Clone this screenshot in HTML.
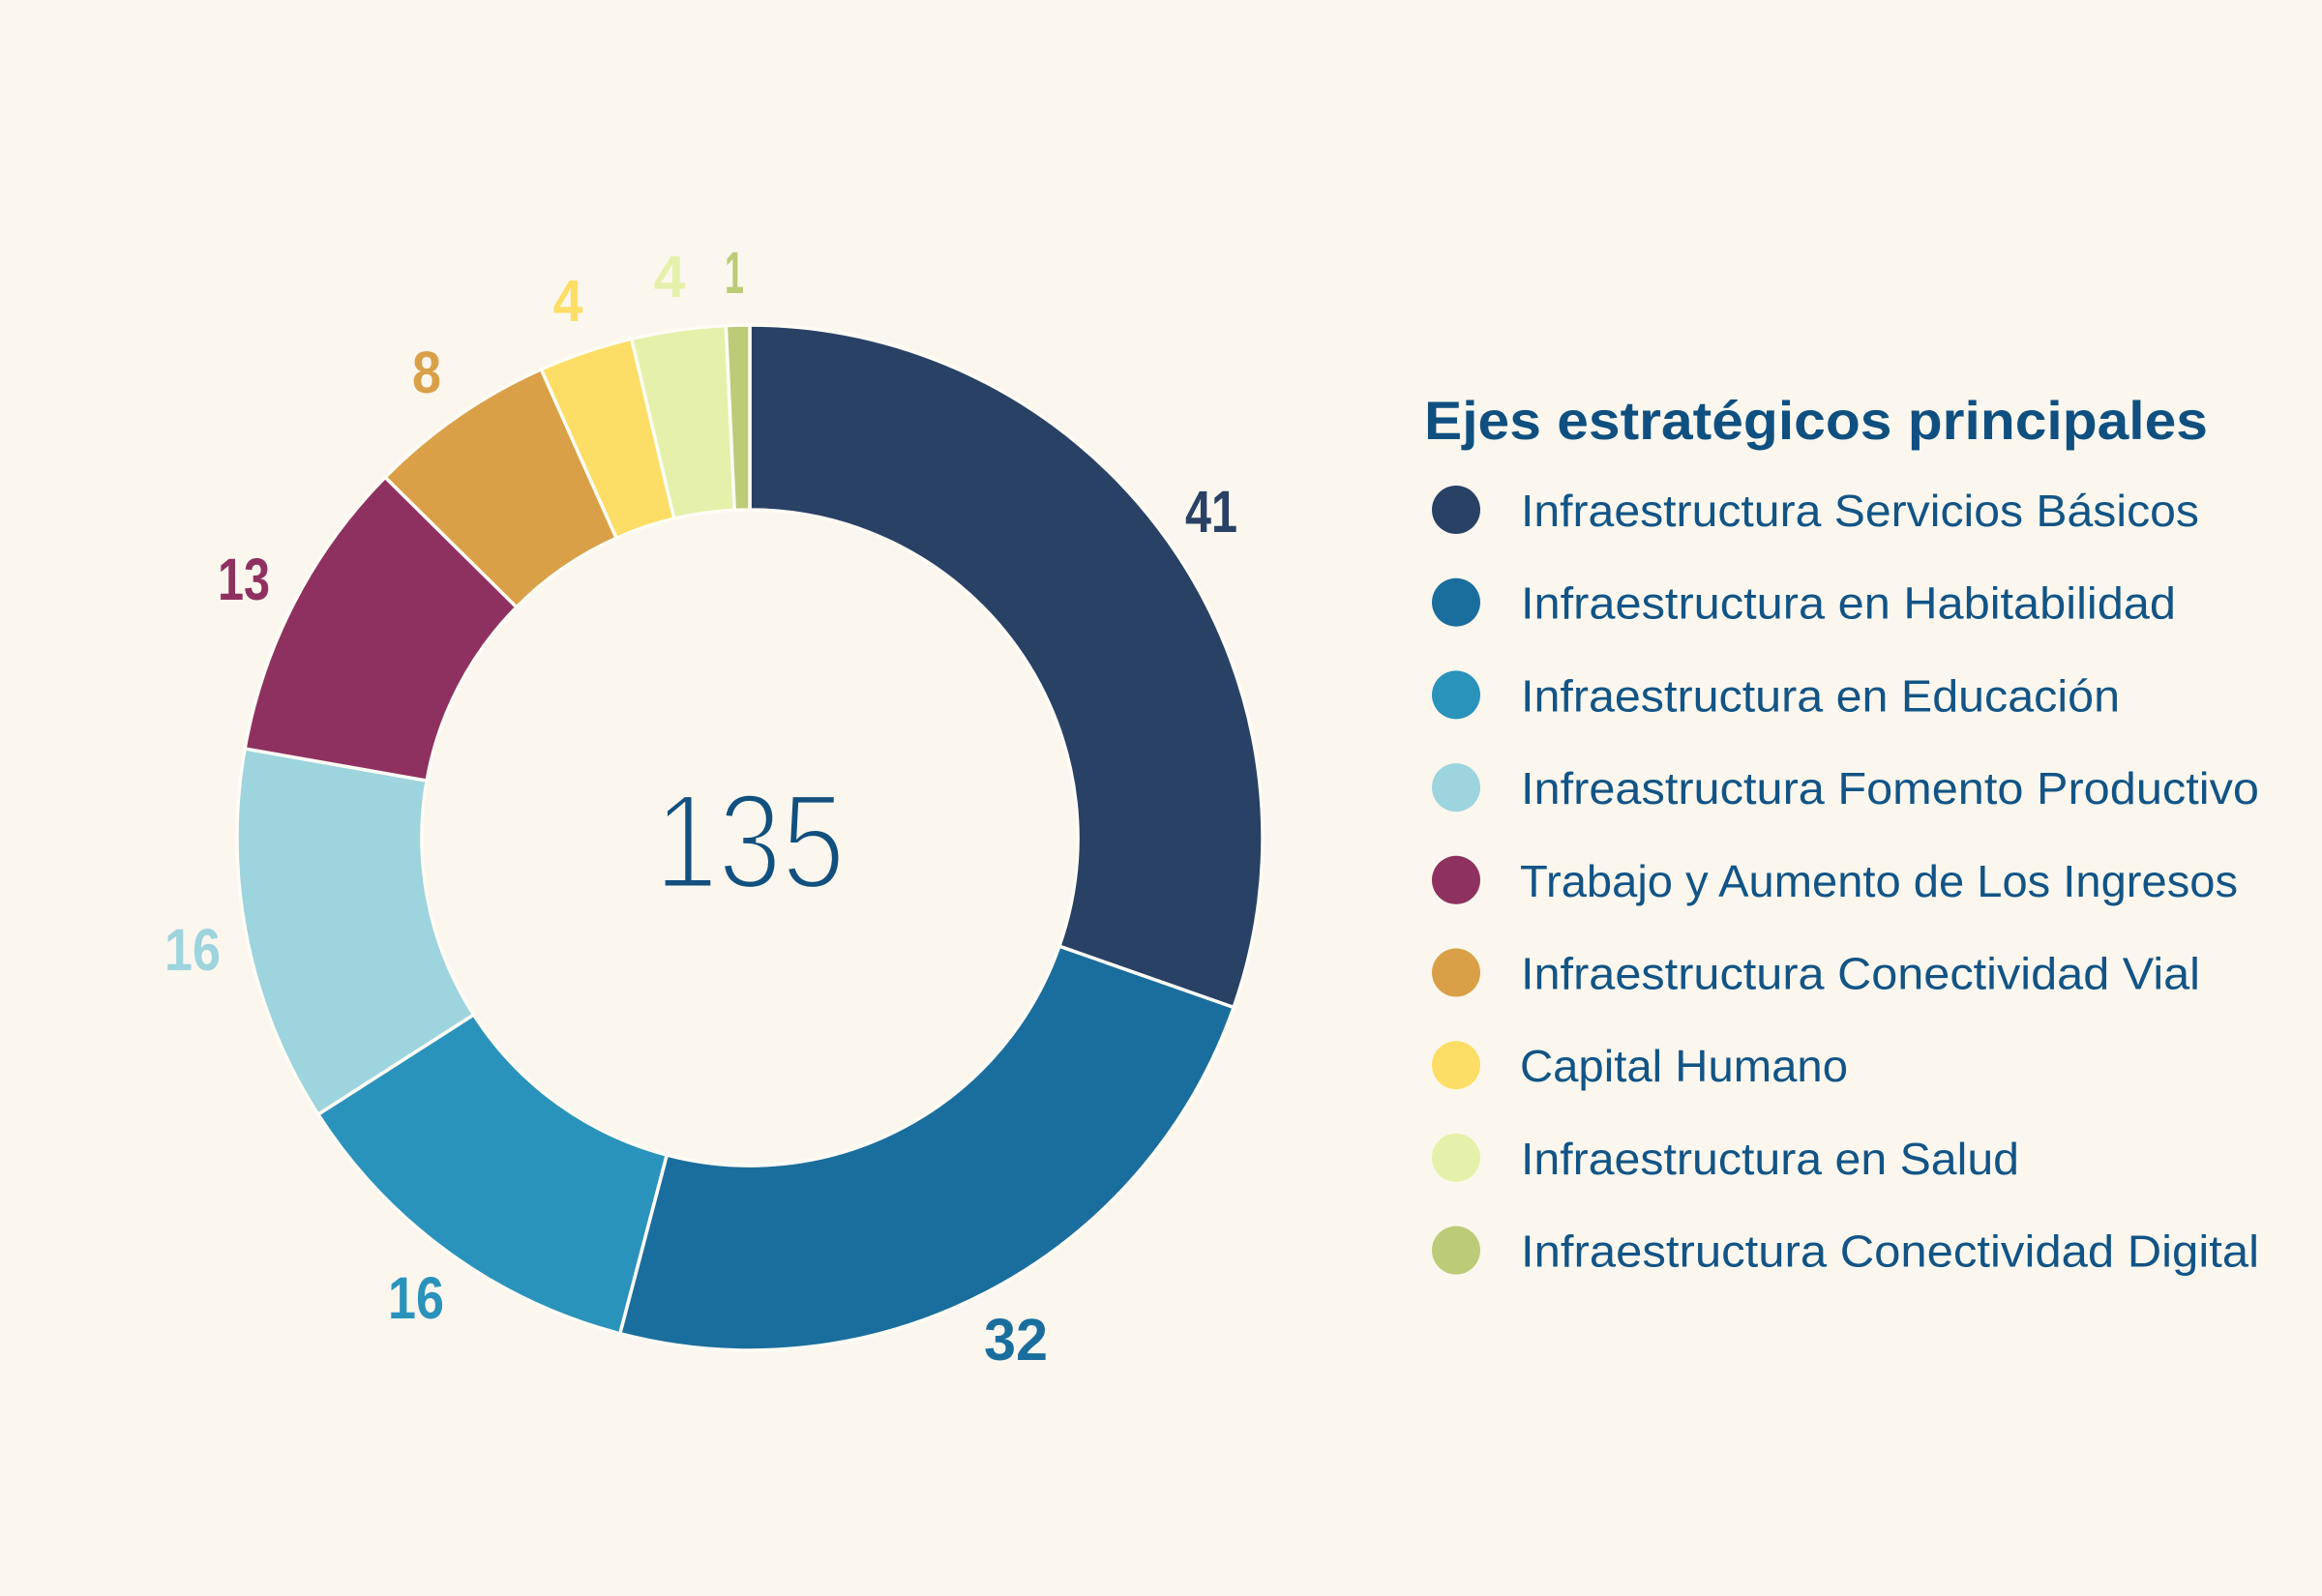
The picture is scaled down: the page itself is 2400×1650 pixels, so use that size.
<!DOCTYPE html>
<html>
<head>
<meta charset="utf-8">
<style>
  html, body { margin: 0; padding: 0; background: #FBF7EE; }
  body { width: 2400px; height: 1650px; overflow: hidden; }
  svg { display: block; }
  text { font-family: "Liberation Sans", sans-serif; }
</style>
</head>
<body>
<svg width="2400" height="1650" viewBox="0 0 2400 1650" xmlns="http://www.w3.org/2000/svg">
  <rect x="0" y="0" width="2400" height="1650" fill="#FBF7EE"/>

  <!-- Donut slices: cx=775, cy=866, R=530, r=339 -->
  <g stroke="#FFFCF5" stroke-width="3.5" stroke-linejoin="miter">
    <path d="M775,336 A530,530 0 0 1 1275.1,1041.5 L1094.9,978.2 A339,339 0 0 0 775,527 Z" fill="#2A4166"/>
    <path d="M1275.1,1041.5 A530,530 0 0 1 640.8,1378.7 L689.2,1194.0 A339,339 0 0 0 1094.9,978.2 Z" fill="#1A6E9E"/>
    <path d="M640.8,1378.7 A530,530 0 0 1 328.8,1152.1 L489.6,1049.0 A339,339 0 0 0 689.2,1194.0 Z" fill="#2A93BC"/>
    <path d="M328.8,1152.1 A530,530 0 0 1 253.1,774.0 L441.1,807.1 A339,339 0 0 0 489.6,1049.0 Z" fill="#9DD4DE"/>
    <path d="M253.1,774.0 A530,530 0 0 1 398.1,493.4 L533.9,627.7 A339,339 0 0 0 441.1,807.1 Z" fill="#8F3160"/>
    <path d="M398.1,493.4 A530,530 0 0 1 559.4,381.8 L637.1,556.3 A339,339 0 0 0 533.9,627.7 Z" fill="#D9A048"/>
    <path d="M559.4,381.8 A530,530 0 0 1 652.8,350.3 L696.8,536.1 A339,339 0 0 0 637.1,556.3 Z" fill="#FCDE66"/>
    <path d="M652.8,350.3 A530,530 0 0 1 750.3,336.6 L759.2,527.4 A339,339 0 0 0 696.8,536.1 Z" fill="#E5F0AA"/>
    <path d="M750.3,336.6 A530,530 0 0 1 775,336 L775,527 A339,339 0 0 0 759.2,527.4 Z" fill="#BCCB78"/>
  </g>

  <!-- Center total -->
  <text x="775" y="918" text-anchor="middle" font-size="140" fill="#11507F" stroke="#FBF7EE" stroke-width="5" paint-order="normal" textLength="197" lengthAdjust="spacingAndGlyphs">135</text>

  <!-- Slice labels -->
  <g font-weight="bold" font-size="61" text-anchor="middle">
    <text x="1252" y="550" fill="#2A4166" textLength="54" lengthAdjust="spacingAndGlyphs">41</text>
    <text x="1050" y="1406" fill="#1A6E9E" textLength="66" lengthAdjust="spacingAndGlyphs">32</text>
    <text x="430" y="1363" fill="#2A93BC" textLength="58" lengthAdjust="spacingAndGlyphs">16</text>
    <text x="199" y="1003" fill="#9DD4DE" textLength="58" lengthAdjust="spacingAndGlyphs">16</text>
    <text x="252" y="620" fill="#8F3160" textLength="54" lengthAdjust="spacingAndGlyphs">13</text>
    <text x="441" y="406" fill="#D9A048" textLength="30" lengthAdjust="spacingAndGlyphs">8</text>
    <text x="587" y="332" fill="#FCDE66" textLength="31" lengthAdjust="spacingAndGlyphs">4</text>
    <text x="692" y="307" fill="#E5F0AA" textLength="33" lengthAdjust="spacingAndGlyphs">4</text>
    <text x="759" y="303" fill="#BCCB78" textLength="20" lengthAdjust="spacingAndGlyphs">1</text>
  </g>

  <!-- Legend title -->
  <text x="1472" y="454" font-size="56" font-weight="bold" fill="#0F5080" textLength="810" lengthAdjust="spacingAndGlyphs">Ejes estratégicos principales</text>

  <!-- Legend markers -->
  <g>
    <circle cx="1505" cy="527" r="25" fill="#2A4166"/>
    <circle cx="1505" cy="622.7" r="25" fill="#1A6E9E"/>
    <circle cx="1505" cy="718.4" r="25" fill="#2A93BC"/>
    <circle cx="1505" cy="814.1" r="25" fill="#9DD4DE"/>
    <circle cx="1505" cy="909.8" r="25" fill="#8F3160"/>
    <circle cx="1505" cy="1005.5" r="25" fill="#D9A048"/>
    <circle cx="1505" cy="1101.2" r="25" fill="#FCDE66"/>
    <circle cx="1505" cy="1196.9" r="25" fill="#E5F0AA"/>
    <circle cx="1505" cy="1292.6" r="25" fill="#BCCB78"/>
  </g>

  <!-- Legend labels -->
  <g font-size="46" fill="#125486">
    <text x="1572" y="544" textLength="701" lengthAdjust="spacingAndGlyphs">Infraestructura Servicios Básicos</text>
    <text x="1572" y="639.7" textLength="677" lengthAdjust="spacingAndGlyphs">Infraestructura en Habitabilidad</text>
    <text x="1572" y="735.4" textLength="619" lengthAdjust="spacingAndGlyphs">Infraestructura en Educación</text>
    <text x="1572" y="831.1" textLength="763" lengthAdjust="spacingAndGlyphs">Infreastructura Fomento Productivo</text>
    <text x="1571" y="926.8" textLength="742" lengthAdjust="spacingAndGlyphs">Trabajo y Aumento de Los Ingresos</text>
    <text x="1572" y="1022.5" textLength="702" lengthAdjust="spacingAndGlyphs">Infraestructura Conectividad Vial</text>
    <text x="1571" y="1118.2" textLength="339" lengthAdjust="spacingAndGlyphs">Capital Humano</text>
    <text x="1572" y="1213.9" textLength="515" lengthAdjust="spacingAndGlyphs">Infraestructura en Salud</text>
    <text x="1572" y="1309.6" textLength="763" lengthAdjust="spacingAndGlyphs">Infraestructura Conectividad Digital</text>
  </g>
</svg>
</body>
</html>
